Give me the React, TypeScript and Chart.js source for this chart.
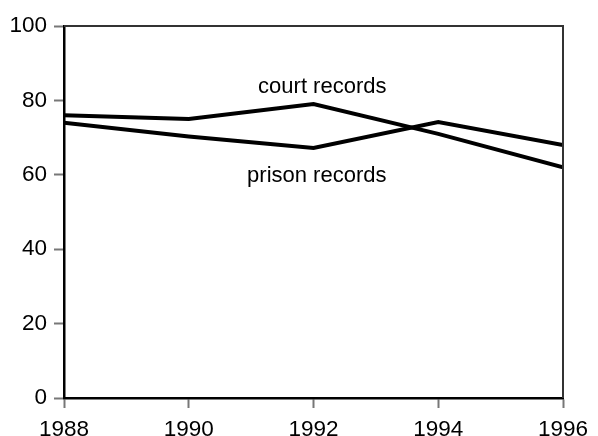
import React, { useEffect, useRef } from "react";
import { Chart, registerables } from "chart.js";

Chart.register(...registerables);

const years = [1988, 1990, 1992, 1994, 1996];
const courtRecords = [76, 75, 79, 71, 62];
const prisonRecords = [74, 70.3, 67.2, 74.2, 68];
const yTicks = [0, 20, 40, 60, 80, 100];
const seriesNames = ["court records", "prison records"];

const FONT = "'Liberation Sans', Arial, Helvetica, sans-serif";

export default function App() {
  const ref = useRef<HTMLCanvasElement | null>(null);

  useEffect(() => {
    document.body.style.margin = "0";
    const canvas = ref.current;
    if (!canvas) return;

    const framePlugin = {
      id: "frame",
      afterDatasetsDraw(chart: any) {
        const { ctx, chartArea } = chart;
        const xs = chart.scales.x;
        const ys = chart.scales.y;
        ctx.save();
        ctx.strokeStyle = "#333333";
        ctx.lineWidth = 2;
        ctx.beginPath();
        ctx.moveTo(chartArea.left, chartArea.top);
        ctx.lineTo(chartArea.right, chartArea.top);
        ctx.lineTo(chartArea.right, chartArea.bottom);
        ctx.stroke();
        // series labels
        ctx.fillStyle = "#000";
        ctx.font = `22px ${FONT}`;
        ctx.textAlign = "right";
        ctx.textBaseline = "alphabetic";
        const lx = xs.getPixelForValue(1993.17);
        ctx.fillText(seriesNames[0], lx, ys.getPixelForValue(82.0));
        ctx.fillText(seriesNames[1], lx, ys.getPixelForValue(58.1));
        ctx.restore();
      },
    };

    const chart = new Chart(canvas, {
      type: "line",
      data: {
        datasets: [
          {
            label: seriesNames[0],
            data: years.map((y, i) => ({ x: y, y: courtRecords[i] })),
            borderColor: "#000",
            borderWidth: 4,
            pointRadius: 0,
            tension: 0,
            fill: false,
          },
          {
            label: seriesNames[1],
            data: years.map((y, i) => ({ x: y, y: prisonRecords[i] })),
            borderColor: "#000",
            borderWidth: 4,
            pointRadius: 0,
            tension: 0,
            fill: false,
          },
        ],
      },
      options: {
        responsive: false,
        animation: false,
        layout: { padding: { left: 0, top: 26, right: 35, bottom: 0 } },
        plugins: {
          legend: { display: false },
          tooltip: { enabled: false },
        },
        scales: {
          x: {
            type: "linear",
            min: years[0],
            max: years[years.length - 1],
            afterBuildTicks(scale: any) {
              scale.ticks = years.map((v) => ({ value: v }));
            },
            afterFit(scale: any) {
              scale.height = 38;
            },
            ticks: {
              color: "#000",
              font: { family: FONT, size: 22.5 },
              padding: 8,
              maxRotation: 0,
              autoSkip: false,
              callback: (v: any) => String(v),
            },
            grid: {
              drawOnChartArea: false,
              drawTicks: true,
              tickLength: 10,
              tickColor: "#777",
              tickWidth: 2,
            },
            border: { color: "#000", width: 2.5 },
          },
          y: {
            type: "linear",
            min: 0,
            max: 100,
            afterBuildTicks(scale: any) {
              scale.ticks = yTicks.map((v) => ({ value: v }));
            },
            afterFit(scale: any) {
              scale.width = 64;
            },
            ticks: {
              color: "#000",
              font: { family: FONT, size: 22.5 },
              padding: 7,
              callback: (v: any) => String(v),
            },
            grid: {
              drawOnChartArea: false,
              drawTicks: true,
              tickLength: 10,
              tickColor: "#777",
              tickWidth: 2,
            },
            border: { color: "#000", width: 2.5 },
          },
        },
      },
      plugins: [framePlugin],
    });

    return () => chart.destroy();
  }, []);

  return (
    <div style={{ position: "absolute", left: 0, top: 0, width: 598, height: 436, background: "#fff" }}>
      <canvas ref={ref} width={598} height={436} style={{ display: "block" }} />
    </div>
  );
}
